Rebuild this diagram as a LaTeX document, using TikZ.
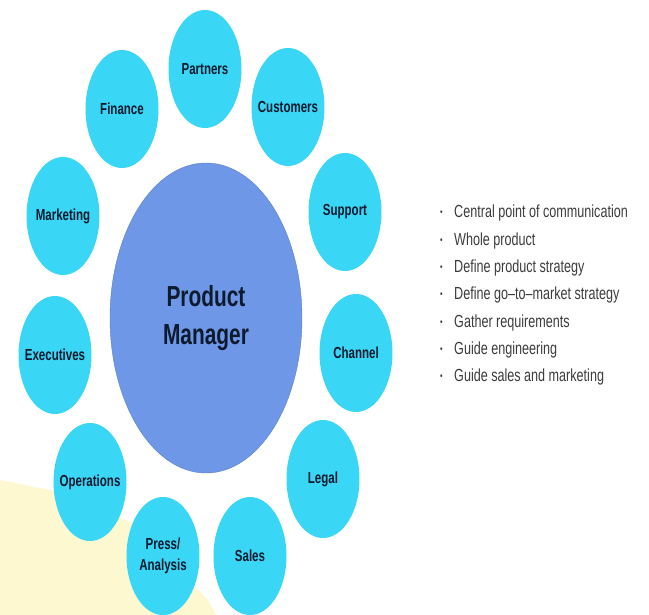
\documentclass[tikz,border=0pt]{standalone}
\usepackage{fontspec}
\setmainfont[FakeStretch=0.72]{Liberation Sans}
\usetikzlibrary{shapes.geometric}

\definecolor{petalcyan}{RGB}{58,214,246}
\definecolor{hubblue}{RGB}{110,151,232}
\definecolor{inkblue}{RGB}{14,26,45}
\definecolor{listgrey}{RGB}{60,60,60}
\definecolor{washyellow}{RGB}{253,248,208}

% one line of the duty list: small bullet, then the text
\newcommand{\dutyitem}[1]{\makebox[14pt][l]{\fontsize{10}{10}\selectfont\raisebox{2pt}{\textbullet}}#1}

\begin{document}
\begin{tikzpicture}[
    x=1pt, y=-1pt,
    petal/.style={ellipse, fill=petalcyan, minimum width=73pt, minimum height=118pt, inner sep=-6pt, align=center, text=inkblue, font=\fontsize{16}{21}\selectfont\bfseries},
    hub/.style={ellipse, fill=hubblue, draw=hubblue!85!black, line width=0.4pt, minimum width=192pt, minimum height=310pt, align=center, text=inkblue, font=\fontsize{29}{38}\selectfont\bfseries},
    duties/.style={anchor=north west, inner sep=0pt, align=left, text=listgrey, font=\fontsize{17.5}{27.3}\selectfont}
]
\useasboundingbox (0,0) rectangle (649,615);

% pale wash in the lower left corner
\fill[washyellow] (0,480) -- (60,492) -- (135,524) -- (208,600) -- (216,615) -- (0,615) -- cycle;

% Centre
\node[hub] (pm) at (206,318) {Product\\Manager};

% Ring of stakeholders (clockwise from the top)
\node[petal] (partners)   at (205,69)  {Partners};
\node[petal] (customers)  at (288,107) {Customers};
\node[petal] (support)    at (345,212) {Support};
\node[petal] (channel)    at (356,353) {Channel};
\node[petal] (legal)      at (323,479) {Legal};
\node[petal] (sales)      at (250,556) {Sales};
\node[petal] (press)      at (163,556) {Press/\\Analysis};
\node[petal] (operations) at (90,482)  {Operations};
\node[petal] (executives) at (55,355)  {Executives};
\node[petal] (marketing)  at (63,216)  {Marketing};
\node[petal] (finance)    at (122,109) {Finance};

% Right: what the role covers
\node[duties] (duty) at (440,205) {\dutyitem{Central point of communication}\\
\dutyitem{Whole product}\\
\dutyitem{Define product strategy}\\
\dutyitem{Define go--to--market strategy}\\
\dutyitem{Gather requirements}\\
\dutyitem{Guide engineering}\\
\dutyitem{Guide sales and marketing}};

\end{tikzpicture}
\end{document}
